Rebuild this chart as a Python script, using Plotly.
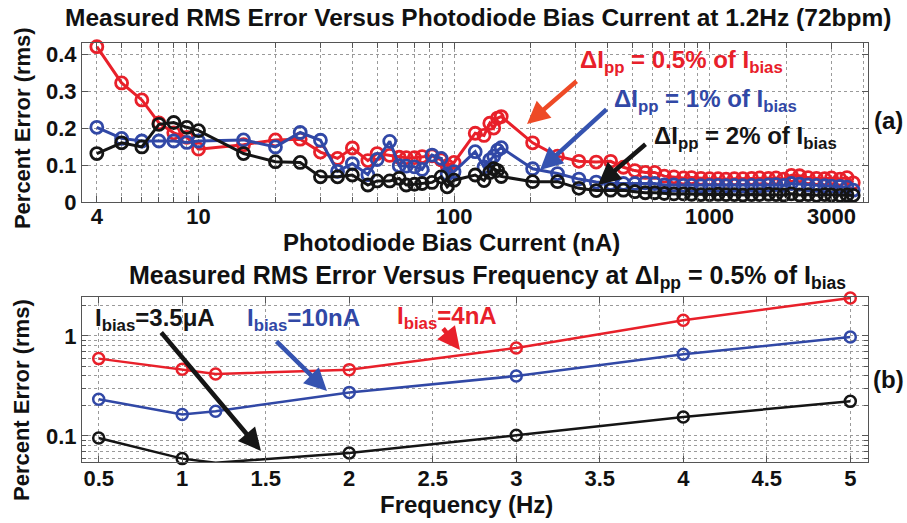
import plotly.graph_objects as go

# ---------------- data: panel (a) ----------------
bias_na = [4, 5, 6, 7, 8, 9, 10,
           15, 20, 25, 30, 35, 40, 46, 50, 56, 61, 65, 70, 75, 82, 89, 94, 100,
           121, 131, 138, 143, 148, 153,
           203, 254, 308, 360, 410, 460, 510, 560, 610, 665, 725, 790, 850, 925,
           1000, 1080, 1160, 1250, 1350, 1460, 1570, 1700, 1820, 1950, 2090, 2250,
           2430, 2620, 2820, 3000, 3240, 3450, 3650]

err_05pct = [0.42, 0.322, 0.276, 0.214, 0.187, 0.175, 0.143,
             0.155, 0.168, 0.17, 0.135, 0.118, 0.146, 0.112, 0.131, 0.126, 0.121, 0.12, 0.12, 0.123, 0.125, 0.114, 0.098, 0.107,
             0.186, 0.18, 0.213, 0.2, 0.227, 0.231,
             0.16, 0.124, 0.11, 0.108, 0.11, 0.094, 0.085, 0.08, 0.08, 0.07, 0.068, 0.065, 0.066, 0.064,
             0.063, 0.063, 0.062, 0.063, 0.063, 0.064, 0.065, 0.064, 0.065, 0.062, 0.072, 0.071,
             0.066, 0.064, 0.063, 0.065, 0.062, 0.066, 0.052]

err_1pct = [0.202, 0.172, 0.165, 0.165, 0.165, 0.161, 0.165,
            0.168, 0.149, 0.188, 0.167, 0.083, 0.104, 0.074, 0.115, 0.164, 0.098, 0.097, 0.095, 0.088, 0.127, 0.118, 0.076, 0.082,
            0.136, 0.095, 0.114, 0.124, 0.14, 0.147,
            0.09, 0.077, 0.062, 0.054, 0.05, 0.05, 0.05, 0.052, 0.05, 0.046, 0.046, 0.045, 0.045, 0.044,
            0.045, 0.045, 0.044, 0.045, 0.044, 0.045, 0.044, 0.046, 0.047, 0.045, 0.05, 0.048,
            0.046, 0.045, 0.044, 0.043, 0.042, 0.04, 0.032]

err_2pct = [0.131, 0.16, 0.149, 0.21, 0.215, 0.202, 0.193,
            0.131, 0.109, 0.107, 0.068, 0.068, 0.073, 0.046, 0.057, 0.057, 0.064, 0.046, 0.048, 0.05, 0.053, 0.068, 0.041, 0.059,
            0.073, 0.058, 0.08, 0.09, 0.085, 0.069,
            0.055, 0.055, 0.037, 0.031, 0.032, 0.032, 0.028, 0.025, 0.025, 0.023, 0.022, 0.022, 0.021, 0.02,
            0.02, 0.021, 0.02, 0.02, 0.019, 0.02, 0.02, 0.021, 0.02, 0.019, 0.022, 0.019,
            0.02, 0.018, 0.02, 0.019, 0.018, 0.019, 0.018]

bias_tickvals = [4, 10, 100, 1000, 3000]
bias_ticktext = ["4", "10", "100", "1000", "3000"]
err_a_ticks = [0, 0.1, 0.2, 0.3, 0.4]

# ---------------- data: panel (b) ----------------
freq_hz = [0.5, 1, 1.2, 2, 3, 4, 5]
err_4na = [0.594, 0.464, 0.417, 0.461, 0.759, 1.44, 2.4]
err_10na = [0.233, 0.164, 0.177, 0.273, 0.398, 0.656, 0.977]
err_3p5ua = [0.0955, 0.0594, 0.054, 0.0676, 0.1016, 0.155, 0.222]

freq_ticks = [0.5, 1, 1.5, 2, 2.5, 3, 3.5, 4, 4.5, 5]
err_b_ticks = [0.1, 1]

# ---------------- style ----------------
RED = "#e8202a"
BLUE = "#3148a6"
BLACK = "#151515"
FONT = "Liberation Sans, Arial, sans-serif"
GRID = "#9a9a9a"
AX = "#555555"

fig = go.Figure()

for ys, col in [(err_05pct, RED), (err_1pct, BLUE), (err_2pct, BLACK)]:
    fig.add_trace(go.Scatter(
        x=bias_na, y=ys, mode="lines+markers", xaxis="x", yaxis="y",
        line=dict(color=col, width=3),
        marker=dict(symbol="circle-open", size=12, color=col, line=dict(width=2.8, color=col)),
        showlegend=False, cliponaxis=False))

for ys, col in [(err_4na, RED), (err_10na, BLUE), (err_3p5ua, BLACK)]:
    fig.add_trace(go.Scatter(
        x=freq_hz, y=ys, mode="lines+markers", xaxis="x2", yaxis="y2",
        line=dict(color=col, width=2.5),
        marker=dict(symbol="circle-open", size=11, color=col, line=dict(width=2.5, color=col)),
        showlegend=False, cliponaxis=False))

tickfont = dict(family=FONT, size=22, color="#111", weight="bold")

minor_bias = [4, 5, 6, 7, 8, 9, 10, 20, 30, 40, 50, 60, 70, 80, 90, 100,
              200, 300, 400, 500, 600, 700, 800, 900, 1000, 2000, 3000, 4000]
minor_err_b = [0.06, 0.07, 0.08, 0.09, 0.1, 0.2, 0.3, 0.4, 0.5, 0.6, 0.7, 0.8, 0.9, 1, 2]

common = dict(showline=True, linecolor=AX, linewidth=1, mirror="ticks",
              ticks="inside", ticklen=6, tickcolor=AX, zeroline=False,
              showgrid=True, gridcolor=GRID, griddash="dot", gridwidth=1,
              tickfont=tickfont)

fig.update_layout(
    width=907, height=523,
    margin=dict(l=82, r=39, t=43, b=61),
    paper_bgcolor="white", plot_bgcolor="white",
    font=dict(family=FONT, color="#111"),
    xaxis=dict(type="log", range=[0.544, 3.62], anchor="y",
               tickvals=bias_tickvals, ticktext=bias_ticktext, ticklabelstandoff=-5,
               minor=dict(tickvals=minor_bias, showgrid=True, gridcolor=GRID,
                          griddash="dot", ticks="inside", ticklen=5, tickcolor=AX),
               **common),
    yaxis=dict(range=[0, 0.43], domain=[0.6205, 1], anchor="x",
               tickvals=err_a_ticks, ticktext=["0", "0.1", "0.2", "0.3", "0.4"],
               **common),
    xaxis2=dict(range=[0.4, 5.106], anchor="y2", ticklabelstandoff=-3,
                tickvals=freq_ticks, ticktext=[str(v) for v in freq_ticks],
                **common),
    yaxis2=dict(type="log", range=[-1.26, 0.39], domain=[0, 0.3938], anchor="x2",
                tickvals=err_b_ticks, ticktext=["0.1", "1"],
                minor=dict(tickvals=minor_err_b, showgrid=True, gridcolor=GRID,
                           griddash="dot", ticks="inside", ticklen=4, tickcolor=AX),
                **common),
)

def txt(x, y, text, size=24, color="#111", xanchor="center", angle=0):
    fig.add_annotation(x=x, y=y, xref="paper", yref="paper", text=text,
                       showarrow=False, xanchor=xanchor, yanchor="middle",
                       textangle=angle,
                       font=dict(family=FONT, size=size, color=color, weight="bold"))

def arrow(x, y, ax, ay, color):
    fig.add_annotation(x=x, y=y, xref="paper", yref="paper", ax=ax, ay=ay,
                       axref="pixel", ayref="pixel", text="", showarrow=True,
                       arrowhead=2, arrowsize=1, arrowwidth=4.5, arrowcolor=color,
                       standoff=0)

# titles
txt(0.5038, 1.062, "Measured RMS Error Versus Photodiode Bias Current at 1.2Hz (72bpm)", size=24.5)
txt(0.5153, 0.4415, "Measured RMS Error Versus Frequency at ΔI<sub>pp</sub> = 0.5% of I<sub>bias</sub>", size=25)
txt(0.4707, 0.523, "Photodiode Bias Current (nA)", size=24)
txt(0.4898, -0.1026, "Frequency (Hz)", size=24)
txt(-0.0763, 0.797, "Percent Error (rms)", size=22, angle=-90)
txt(-0.0763, 0.148, "Percent Error (rms)", size=22, angle=-90)
txt(1.0267, 0.816, "(a)", size=24)
txt(1.0267, 0.196, "(b)", size=24)

# panel (a) labels
txt(0.631, 0.9547, "ΔI<sub>pp</sub> = 0.5% of I<sub>bias</sub>", color=RED, xanchor="left")
txt(0.6743, 0.8616, "ΔI<sub>pp</sub> = 1% of I<sub>bias</sub>", color=BLUE, xanchor="left")
txt(0.7252, 0.7733, "ΔI<sub>pp</sub> = 2% of I<sub>bias</sub>", color=BLACK, xanchor="left")
arrow(0.5662, 0.8067, 51, -44, "#ee4a26")
arrow(0.5827, 0.6969, 68, -62, "#3553b0")
arrow(0.6565, 0.6611, 49, -42, BLACK)

# panel (b) labels
txt(0.014, 0.339, "I<sub>bias</sub>=3.5μA", color=BLACK, xanchor="left")
txt(0.2074, 0.339, "I<sub>bias</sub>=10nA", color=BLUE, xanchor="left")
txt(0.3982, 0.3437, "I<sub>bias</sub>=4nA", color=RED, xanchor="left")
arrow(0.2277, 0.02625, -101, -120, BLACK)
arrow(0.3117, 0.1695, -52, -51, "#3553b0")
arrow(0.4809, 0.2673, -18, -23, RED)

fig.write_html("out.html",
               config={"displayModeBar": False},
               post_script="document.body.style.margin='0';document.body.style.padding='0';")
